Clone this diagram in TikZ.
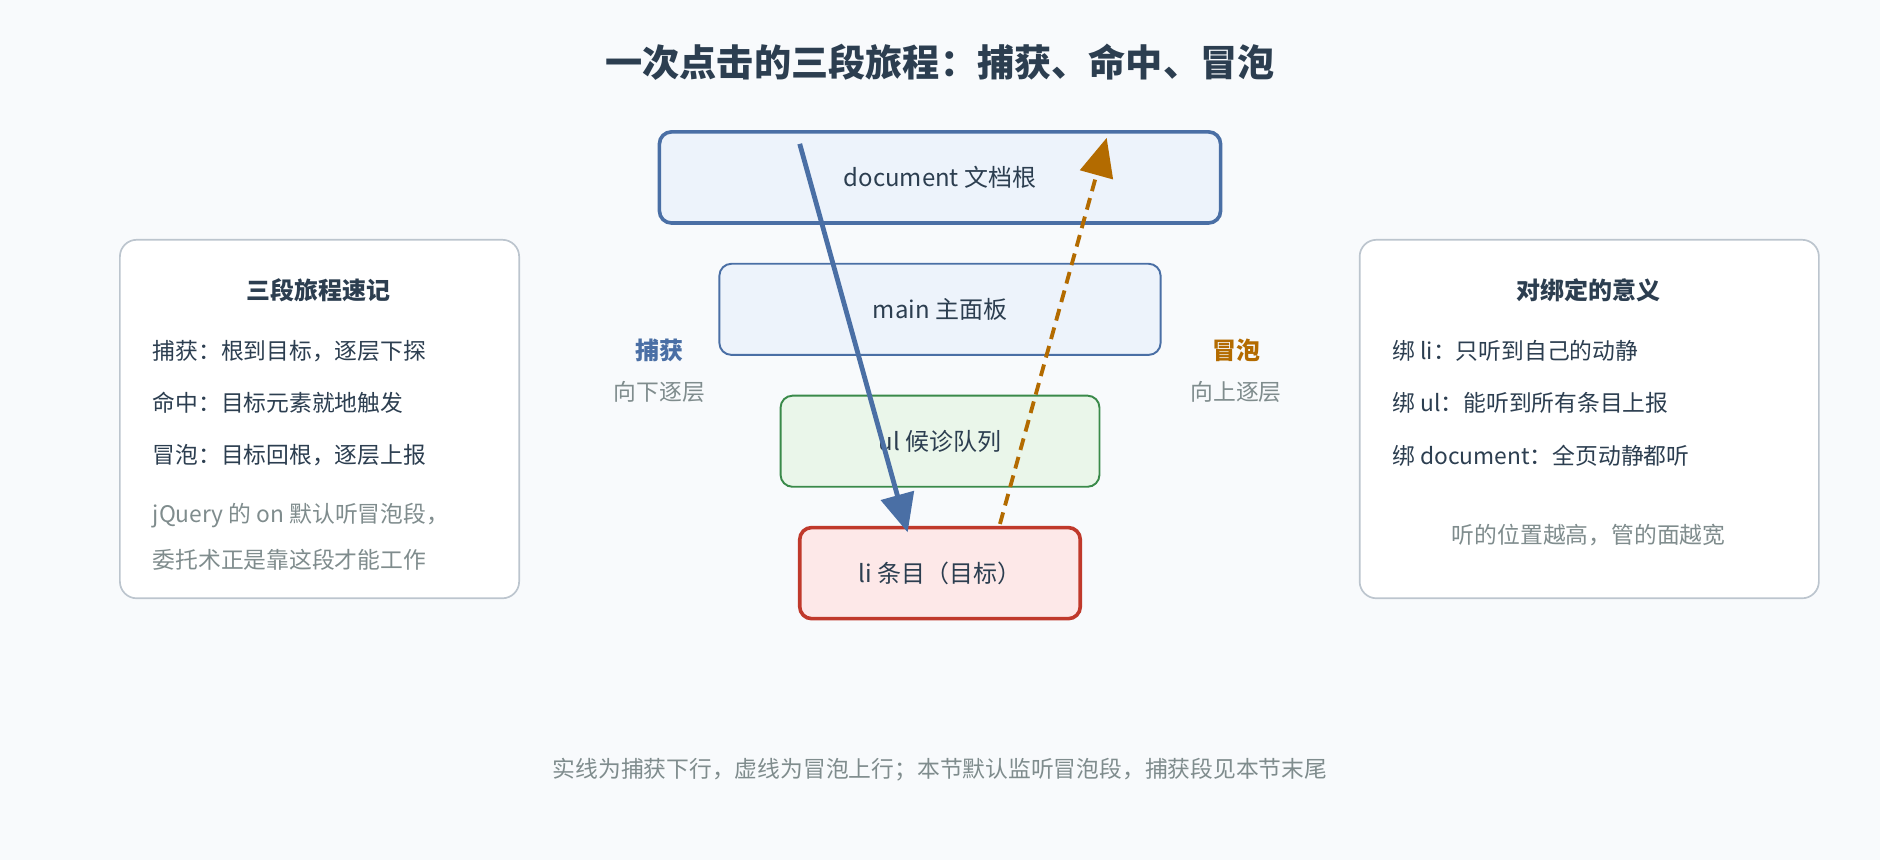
\documentclass[tikz,border=0pt]{standalone}
\usepackage{fontspec}
\setmainfont{Noto Sans CJK SC}
\usetikzlibrary{arrows.meta}
\definecolor{bg}{HTML}{F8FAFC}
\definecolor{dark}{HTML}{2C3E50}
\definecolor{blu}{HTML}{4A6FA5}
\definecolor{blufill}{HTML}{EDF3FB}
\definecolor{grn}{HTML}{3A8A4A}
\definecolor{grnfill}{HTML}{EAF6EA}
\definecolor{rd}{HTML}{C0392B}
\definecolor{rdfill}{HTML}{FDE8E8}
\definecolor{org}{HTML}{B36B00}
\definecolor{gry}{HTML}{7F8C8D}
\definecolor{panelst}{HTML}{BCC5CE}
\begin{document}
\begin{tikzpicture}[x=0.5pt,y=-0.5pt,
  box/.style={draw, rounded corners=5pt, inner sep=0pt, text=dark, font=\fontsize{10}{12}\selectfont},
  panel/.style={draw=panelst, line width=0.7pt, fill=white, rounded corners=7pt},
  txt/.style={text=dark, font=\fontsize{9.5}{11}\selectfont, anchor=west, inner sep=0pt},
  gtxt/.style={text=gry, font=\fontsize{9.5}{11}\selectfont, inner sep=0pt},
  ptitle/.style={text=dark, font=\bfseries\fontsize{10}{12}\selectfont, inner sep=0pt}]
\fill[bg] (0,0) rectangle (1568,717);
\useasboundingbox (0,0) rectangle (1568,717);
\node[text=dark, font=\bfseries\fontsize{15.5}{18}\selectfont] (title) at (784,52) {一次点击的三段旅程：捕获、命中、冒泡};
% center boxes
\node[box, draw=blu, line width=1.5pt, fill=blufill, minimum width=234pt, minimum height=38pt] (doc) at (784,148) {document 文档根};
\node[box, draw=blu, line width=0.8pt, fill=blufill, minimum width=184pt, minimum height=38pt] (main) at (784,258) {main 主面板};
\node[box, draw=grn, line width=0.8pt, fill=grnfill, minimum width=133pt, minimum height=38pt] (ul) at (784,368) {ul 候诊队列};
\node[box, draw=rd, line width=1.5pt, fill=rdfill, minimum width=117pt, minimum height=38pt] (li) at (784,478) {li 条目（目标）};
% arrows
\coordinate (cs) at (667,120); \coordinate (ce) at (757,444);
\coordinate (bs) at (834,437); \coordinate (be) at (923,115);
\draw[blu, line width=2pt, -{Triangle[length=16pt,width=14pt]}] (cs) -- (ce);
\draw[org, line width=1.6pt, dash pattern=on 5pt off 3pt, -{Triangle[length=16pt,width=14pt]}] (bs) -- (be);
% side labels
\node[text=blu, font=\bfseries\fontsize{10}{12}\selectfont] (cap) at (550,292) {捕获};
\node[gtxt] (capd) at (550,327) {向下逐层};
\node[text=org, font=\bfseries\fontsize{10}{12}\selectfont] (bub) at (1031,292) {冒泡};
\node[gtxt] (bubd) at (1031,327) {向上逐层};
% left panel
\draw[panel] (100,200) rectangle (433,499);
\node[ptitle] (lt) at (266,242) {三段旅程速记};
\node[txt] (l1) at (127,293) {捕获：根到目标，逐层下探};
\node[txt] (l2) at (127,336) {命中：目标元素就地触发};
\node[txt] (l3) at (127,380) {冒泡：目标回根，逐层上报};
\node[gtxt, anchor=west] (l4) at (127,430) {jQuery 的 on 默认听冒泡段，};
\node[gtxt, anchor=west] (l5) at (127,467) {委托术正是靠这段才能工作};
% right panel
\draw[panel] (1134,200) rectangle (1517,499);
\node[ptitle] (rt) at (1325,242) {对绑定的意义};
\node[txt] (r1) at (1161,293) {绑 li：只听到自己的动静};
\node[txt] (r2) at (1161,336) {绑 ul：能听到所有条目上报};
\node[txt] (r3) at (1161,380) {绑 document：全页动静都听};
\node[gtxt] (r4) at (1325,446) {听的位置越高，管的面越宽};
% footer
\node[gtxt] (foot) at (784,642) {实线为捕获下行，虚线为冒泡上行；本节默认监听冒泡段，捕获段见本节末尾};
\end{tikzpicture}
\end{document}
